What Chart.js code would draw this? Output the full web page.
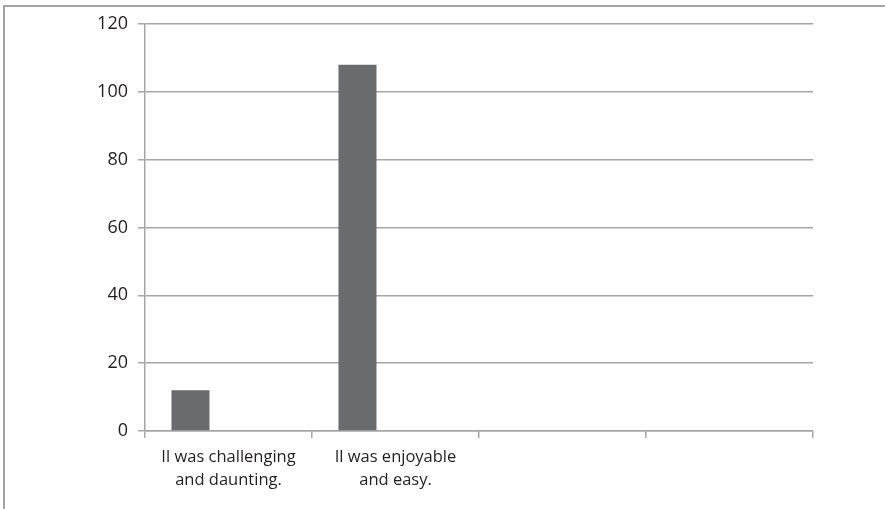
<!DOCTYPE html>
<html>
<head>
<meta charset="utf-8">
<script src="https://cdn.jsdelivr.net/npm/chart.js@4"></script>
<style>
  body { margin: 0; background: #fff; }
  #frame { position: absolute; left: 3px; top: 5px; width: 1000px; height: 1000px; border-left: 2px solid #a3a3a3; border-top: 2px solid #a3a3a3; }
  #wrap { position: absolute; left: 0; top: 0; width: 885px; height: 509px; }
</style>
</head>
<body>
<div id="frame"></div>
<div id="wrap"><canvas id="chart"></canvas></div>
<script>
// 카테고리와 값
const categories = [["Il was challenging", "and daunting."], ["Il was enjoyable", "and easy."], "", ""];
const series1 = [12, 108, null, null];
const series2 = [null, null, null, null];
const series3 = [null, null, null, null];
const yTicks = [0, 20, 40, 60, 80, 100, 120];

const gridColor = '#a6a6a6';
const textColor = '#231f20';
const family = "'Open Sans', sans-serif";

const ctx = document.getElementById('chart').getContext('2d');
new Chart(ctx, {
  type: 'bar',
  data: {
    labels: categories,
    datasets: [series1, series2, series3].map(d => ({
      data: d,
      backgroundColor: '#6a6b6f',
      categoryPercentage: 0.683,
      barPercentage: 1
    }))
  },
  options: {
    responsive: true,
    maintainAspectRatio: false,
    animation: false,
    layout: { padding: { left: 0, right: 72, top: 24, bottom: 0 } },
    plugins: { legend: { display: false }, tooltip: { enabled: false } },
    scales: {
      x: {
        grid: { offset: true, drawOnChartArea: false, color: gridColor, tickLength: 7, lineWidth: 1.5 },
        border: { color: gridColor, width: 1.5 },
        ticks: { color: textColor, font: { family: family, size: 16.5, lineHeight: 1.38 }, padding: 8, maxRotation: 0 },
        afterFit: s => { s.height = 78; }
      },
      y: {
        min: 0,
        max: 120,
        afterBuildTicks: s => { s.ticks = yTicks.map(v => ({ value: v })); },
        grid: { color: gridColor, tickLength: 7, lineWidth: 1.5 },
        border: { color: gridColor, width: 1.5 },
        ticks: { color: textColor, font: { family: family, size: 18 }, padding: 10 },
        afterFit: s => { s.width = 145; }
      }
    }
  }
});
</script>
</body>
</html>
